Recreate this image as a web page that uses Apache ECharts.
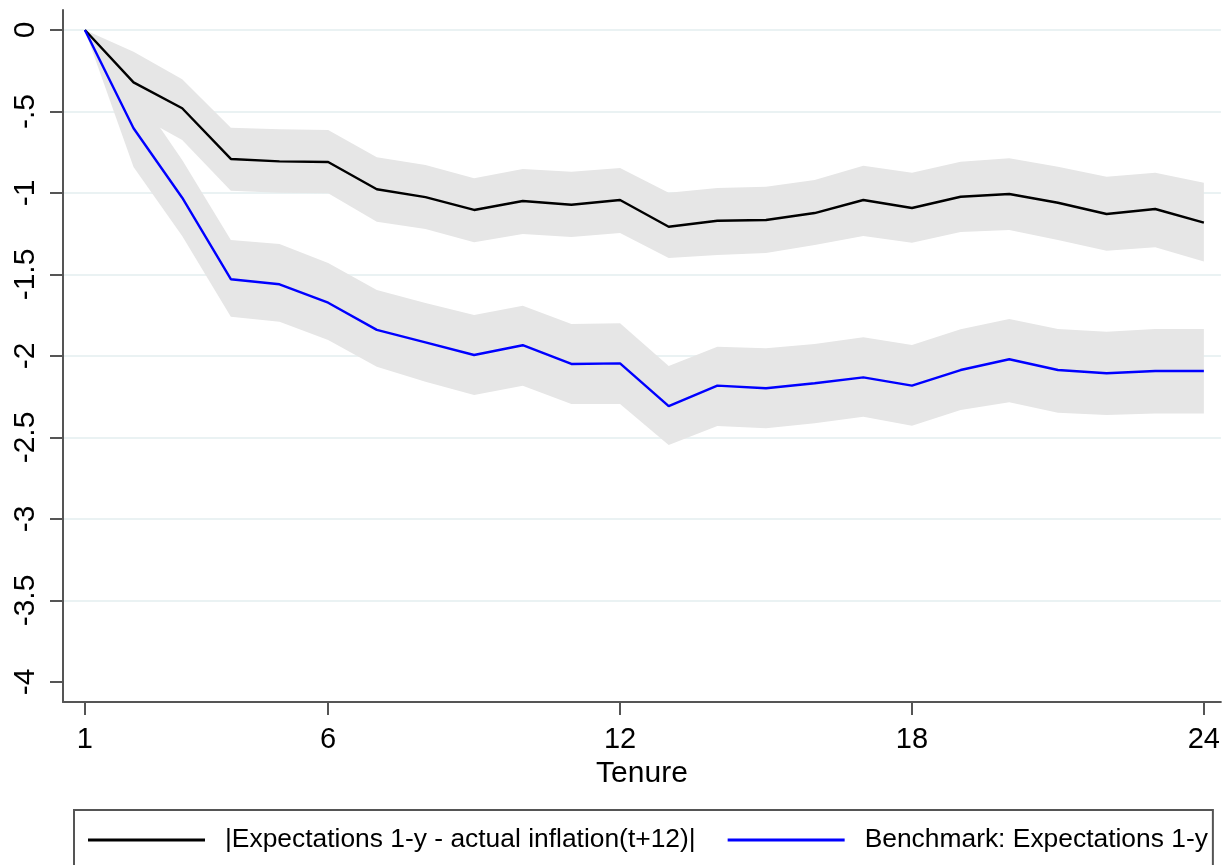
<!DOCTYPE html>
<html>
<head>
<meta charset="utf-8">
<script src="https://cdn.jsdelivr.net/npm/echarts@6/dist/echarts.min.js"></script>
<style>
  html, body { margin: 0; padding: 0; background: #fff; }
  #chart { width: 1223px; height: 865px; }
</style>
</head>
<body>
<div id="chart"></div>
<script>
const tenure = [1,2,3,4,5,6,7,8,9,10,11,12,13,14,15,16,17,18,19,20,21,22,23,24];

const absMean  = [0,-0.321,-0.480,-0.791,-0.806,-0.810,-0.977,-1.025,-1.104,-1.049,-1.072,-1.043,-1.207,-1.170,-1.166,-1.123,-1.043,-1.092,-1.023,-1.006,-1.060,-1.129,-1.098,-1.182];
const absUpper = [0,-0.133,-0.302,-0.599,-0.609,-0.613,-0.781,-0.828,-0.910,-0.853,-0.869,-0.847,-0.998,-0.969,-0.961,-0.920,-0.833,-0.875,-0.808,-0.787,-0.839,-0.900,-0.875,-0.937];
const absLower = [0,-0.509,-0.675,-0.986,-0.998,-1.002,-1.176,-1.221,-1.302,-1.252,-1.270,-1.245,-1.399,-1.380,-1.368,-1.319,-1.264,-1.305,-1.239,-1.227,-1.288,-1.354,-1.333,-1.421];

const benMean  = [0,-0.603,-1.029,-1.529,-1.560,-1.673,-1.840,-1.916,-1.994,-1.934,-2.049,-2.045,-2.307,-2.182,-2.198,-2.167,-2.131,-2.182,-2.086,-2.020,-2.086,-2.106,-2.092,-2.092];
const benUpper = [0,-0.362,-0.798,-1.288,-1.313,-1.429,-1.595,-1.675,-1.748,-1.691,-1.804,-1.799,-2.061,-1.943,-1.953,-1.926,-1.885,-1.933,-1.836,-1.773,-1.834,-1.851,-1.834,-1.834];
const benLower = [0,-0.840,-1.264,-1.759,-1.790,-1.902,-2.066,-2.158,-2.239,-2.182,-2.294,-2.294,-2.546,-2.429,-2.444,-2.413,-2.372,-2.428,-2.331,-2.284,-2.348,-2.362,-2.352,-2.352];

const xTicks = [1, 6, 12, 18, 24];
const yTicks = [-4, -3.5, -3, -2.5, -2, -1.5, -1, -0.5, 0];
const yTickLabels = ['-4', '-3.5', '-3', '-2.5', '-2', '-1.5', '-1', '-.5', '0'];
const yGridValues = [-3.5, -3, -2.5, -2, -1.5, -1, -0.5, 0];

const nameAbs = '|Expectations 1-y - actual inflation(t+12)|';
const nameBen = 'Benchmark: Expectations 1-y';

const pairs = (arr) => tenure.map((t, i) => [t, arr[i]]);

const bandColor = '#e6e6e6';
const axisColor = '#555555';
const FONT = '"Liberation Sans", Arial, sans-serif';

function bandSeries(id, lo, hi) {
  return {
    type: 'custom', name: id + '_band', silent: true, z: 1,
    data: [[tenure[0], hi[0]]],
    encode: { x: 0, y: 1 },
    renderItem: (params, api) => {
      if (params.dataIndex !== 0) return null;
      const pts = [];
      for (let i = 0; i < tenure.length; i++) pts.push(api.coord([tenure[i], hi[i]]));
      for (let i = tenure.length - 1; i >= 0; i--) pts.push(api.coord([tenure[i], lo[i]]));
      return { type: 'polygon', shape: { points: pts }, style: { fill: bandColor, stroke: null } };
    }
  };
}

const chart = echarts.init(document.getElementById('chart'), null, { renderer: 'canvas' });

chart.setOption({
  animation: false,
  backgroundColor: '#ffffff',
  textStyle: { fontFamily: FONT },
  grid: { left: 63, top: 10, width: 1158, height: 692, containLabel: false },
  xAxis: {
    type: 'value', min: 0.55, max: 24.35,
    name: 'Tenure', nameLocation: 'middle', nameGap: 57,
    nameTextStyle: { fontSize: 30, color: '#000', fontFamily: FONT },
    axisLine: { show: true, onZero: false, lineStyle: { color: axisColor, width: 2 } },
    axisTick: { show: true, length: 13, lineStyle: { color: axisColor, width: 2 }, customValues: xTicks },
    axisLabel: { fontSize: 29, color: '#000', margin: 23, fontFamily: FONT, customValues: xTicks },
    splitLine: { show: false }
  },
  yAxis: [
    {
      type: 'value', min: -4.1227, max: 0.1227,
      axisLine: { show: true, onZero: false, lineStyle: { color: axisColor, width: 2 } },
      axisTick: { show: true, length: 13, lineStyle: { color: axisColor, width: 2 }, customValues: yTicks },
      axisLabel: {
        fontSize: 30, color: '#000', margin: 22, rotate: 90, fontFamily: FONT,
        customValues: yTicks,
        formatter: (v) => {
          const i = yTicks.findIndex(t => Math.abs(t - v) < 1e-6);
          return i >= 0 ? yTickLabels[i] : '';
        }
      },
      splitLine: { show: false }
    },
    {
      type: 'value', min: -4.1227, max: 0.1227, position: 'left',
      axisLine: { show: false },
      axisTick: { show: false, customValues: yGridValues },
      axisLabel: { show: false, customValues: yGridValues },
      splitLine: { show: true, lineStyle: { color: '#eaf2f3', width: 2 } }
    }
  ],
  legend: {
    data: [nameAbs, nameBen],
    left: 74, top: 810,
    orient: 'horizontal',
    icon: 'rect',
    itemWidth: 117, itemHeight: 3, itemGap: 32,
    padding: [17, 5, 40, 14],
    borderColor: axisColor, borderWidth: 2, borderRadius: 0,
    backgroundColor: '#fff',
    textStyle: { fontSize: 26.4, color: '#000', fontFamily: FONT, padding: [0, 0, 0, 15] },
    selectedMode: false
  },
  series: [
    bandSeries('abs', absLower, absUpper),
    bandSeries('ben', benLower, benUpper),
    {
      type: 'line', name: nameAbs, data: pairs(absMean), symbol: 'none',
      lineStyle: { color: '#000000', width: 2.4 }, itemStyle: { color: '#000000' }, z: 3
    },
    {
      type: 'line', name: nameBen, data: pairs(benMean), symbol: 'none',
      lineStyle: { color: '#0000ff', width: 2.4 }, itemStyle: { color: '#0000ff' }, z: 3
    }
  ]
});
</script>
</body>
</html>
